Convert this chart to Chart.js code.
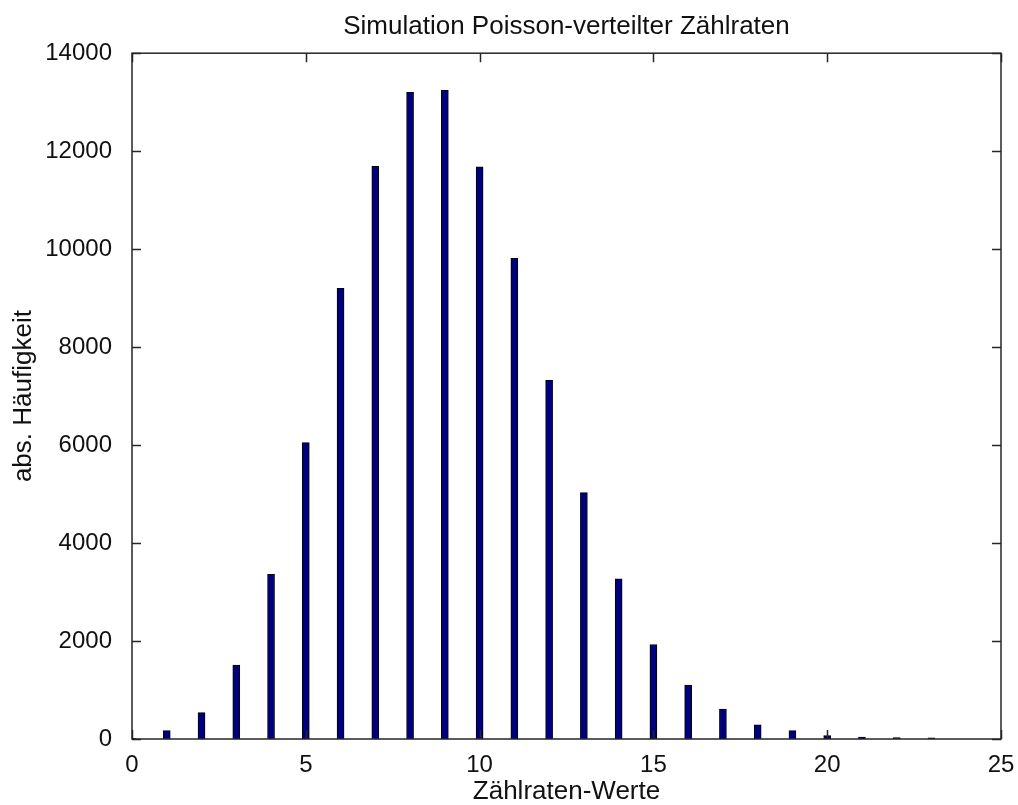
<!DOCTYPE html>
<html>
<head>
<meta charset="utf-8">
<script src="https://cdn.jsdelivr.net/npm/chart.js@4.4.0/dist/chart.umd.min.js"></script>
<style>
  html, body { margin: 0; padding: 0; background: #fff; }
  #wrap { width: 1018px; height: 805px; }
</style>
</head>
<body>
<div id="wrap"><canvas id="chart"></canvas></div>
<script>
// Zählraten 0..23 und ihre absoluten Häufigkeiten
const rates = [0, 1, 2, 3, 4, 5, 6, 7, 8, 9, 10, 11, 12, 13, 14, 15, 16, 17, 18, 19, 20, 21, 22, 23];
const counts = [12, 170, 540, 1510, 3360, 6050, 9200, 11690, 13200, 13240, 11680, 9810, 7320, 5030, 3270, 1930, 1100, 610, 290, 170, 70, 40, 30, 25];
const xTicks = [0, 5, 10, 15, 20, 25];
const yTicks = [0, 2000, 4000, 6000, 8000, 10000, 12000, 14000];

const FONT = '"Liberation Sans", Arial, sans-serif';
const AXIS = '#262626';

// Rahmen und nach innen zeigende Striche wie bei MATLAB
const matlabBox = {
  id: 'matlabBox',
  afterDatasetsDraw(chart) {
    const { ctx, chartArea: a, scales } = chart;
    const len = 9;
    ctx.save();
    ctx.strokeStyle = AXIS;
    ctx.lineWidth = 1.5;
    ctx.beginPath();
    xTicks.forEach(v => {
      const x = Math.round(scales.x.getPixelForValue(v)) + 0.5;
      ctx.moveTo(x, a.bottom); ctx.lineTo(x, a.bottom - len);
      ctx.moveTo(x, a.top); ctx.lineTo(x, a.top + len);
    });
    yTicks.forEach(v => {
      const y = Math.round(scales.y.getPixelForValue(v)) + 0.5;
      ctx.moveTo(a.left, y); ctx.lineTo(a.left + len, y);
      ctx.moveTo(a.right, y); ctx.lineTo(a.right - len, y);
    });
    ctx.stroke();
    ctx.strokeRect(a.left, a.top, a.right - a.left, a.bottom - a.top);
    ctx.restore();
  }
};

const ctx = document.getElementById('chart').getContext('2d');
new Chart(ctx, {
  type: 'bar',
  data: {
    datasets: [{
      data: rates.map((r, i) => ({ x: r, y: counts[i] })),
      backgroundColor: '#00007f',
      borderColor: '#000000',
      borderWidth: 1,
      barThickness: 7,
    }]
  },
  options: {
    responsive: true,
    maintainAspectRatio: false,
    animation: false,
    layout: { padding: { left: 0, right: 17, top: 0, bottom: 0 } },
    plugins: {
      legend: { display: false },
      tooltip: { enabled: false },
      title: {
        display: true,
        fullSize: false,
        text: 'Simulation Poisson-verteilter Zählraten',
        color: '#111',
        font: { family: FONT, size: 26, weight: 'normal', lineHeight: 1.2 },
        padding: { top: 11, bottom: 11 }
      }
    },
    scales: {
      x: {
        type: 'linear',
        min: 0,
        max: 25,
        offset: false,
        afterBuildTicks: s => { s.ticks = xTicks.map(v => ({ value: v })); },
        afterFit: s => { s.height = 66; s.paddingLeft = 0; s.paddingRight = 0; },
        grid: { display: false, offset: false, drawTicks: false, tickLength: 0 },
        border: { display: false },
        ticks: {
          color: '#111',
          padding: 12,
          maxRotation: 0,
          callback: v => String(v),
          font: { family: FONT, size: 24 }
        },
        title: {
          display: true,
          text: 'Zählraten-Werte',
          color: '#111',
          padding: { top: 0, bottom: 0 },
          font: { family: FONT, size: 26, lineHeight: 1.0 }
        }
      },
      y: {
        min: 0,
        max: 14000,
        afterBuildTicks: s => { s.ticks = yTicks.map(v => ({ value: v })); },
        afterFit: s => { s.width = 132; s.paddingTop = 0; s.paddingBottom = 0; },
        grid: { display: false, drawTicks: false, tickLength: 0 },
        border: { display: false },
        ticks: {
          color: '#111',
          padding: 20,
          callback: v => String(v),
          font: { family: FONT, size: 24 }
        },
        title: {
          display: true,
          text: 'abs. Häufigkeit',
          color: '#111',
          padding: { top: 8, bottom: 0 },
          font: { family: FONT, size: 26 }
        }
      }
    }
  },
  plugins: [matlabBox]
});
</script>
</body>
</html>
